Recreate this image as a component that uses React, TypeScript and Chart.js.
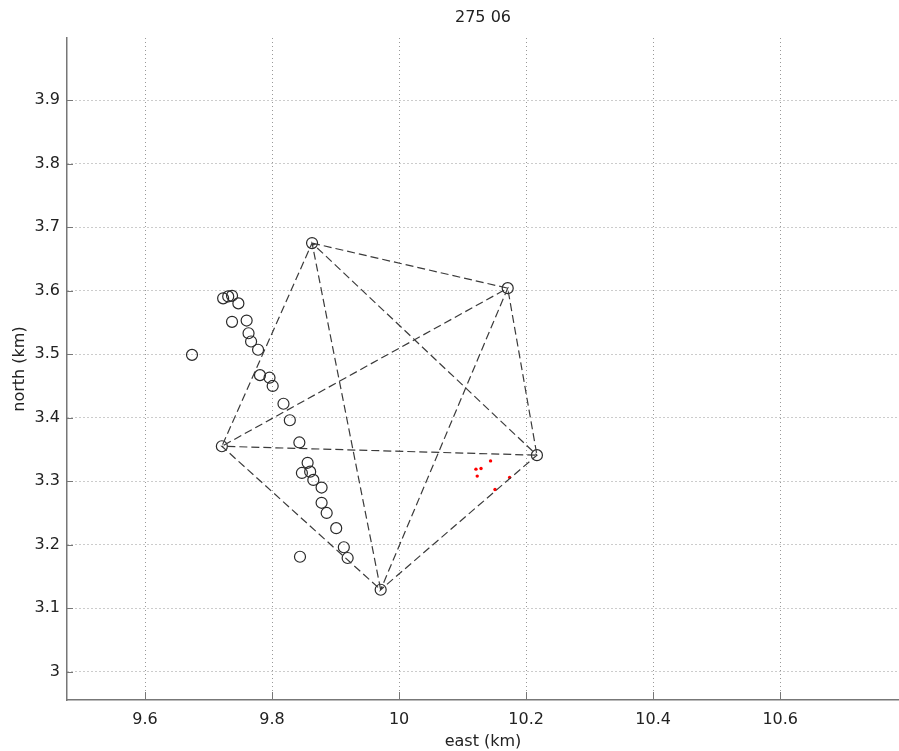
import React, { useEffect, useRef } from "react";
import { Chart, registerables } from "chart.js";

Chart.register(...registerables);

const TITLE = "275 06";
const X_LABEL = "east (km)";
const Y_LABEL = "north (km)";

const X_MIN = 9.4772;
const X_MAX = 10.787;
const Y_MIN = 2.9554;
const Y_MAX = 3.998;
const X_STEP = 0.2;
const Y_STEP = 0.1;

// Station positions (large circles joined by dashed lines)
const stationEast = [9.863, 10.171, 10.217, 9.721, 9.971];
const stationNorth = [3.675, 3.604, 3.341, 3.355, 3.129];
// order in which the stations are linked (every pair is joined)
const linkOrder = [0, 1, 2, 3, 4, 0, 2, 4, 1, 3, 0];

// Located events (open circles)
const eventEast = [
  9.723, 9.731, 9.737, 9.747, 9.737, 9.760, 9.763, 9.767, 9.778, 9.674,
  9.781, 9.796, 9.801, 9.818, 9.828, 9.843, 9.856, 9.847, 9.860, 9.865,
  9.878, 9.878, 9.886, 9.901, 9.913, 9.919, 9.844,
];
const eventNorth = [
  3.588, 3.591, 3.592, 3.580, 3.551, 3.553, 3.533, 3.520, 3.507, 3.499,
  3.467, 3.463, 3.450, 3.422, 3.396, 3.361, 3.329, 3.313, 3.315, 3.302,
  3.290, 3.266, 3.250, 3.226, 3.196, 3.179, 3.181,
];

// Red dots
const redEast = [10.144, 10.121, 10.129, 10.123, 10.174, 10.151];
const redNorth = [3.332, 3.319, 3.320, 3.308, 3.306, 3.287];

const FONT = "'DejaVu Sans', sans-serif";

const fmt = (v: any) => String(Math.round(Number(v) * 10) / 10);

const innerTicks = {
  id: "innerTicks",
  afterDraw(chart: any) {
    const { ctx, chartArea, scales } = chart;
    ctx.save();
    ctx.strokeStyle = "#777";
    ctx.lineWidth = 1;
    ctx.beginPath();
    scales.x.ticks.forEach((_t: any, i: number) => {
      const px = Math.round(scales.x.getPixelForTick(i)) + 0.5;
      ctx.moveTo(px, chartArea.bottom);
      ctx.lineTo(px, chartArea.bottom - 8);
    });
    scales.y.ticks.forEach((_t: any, i: number) => {
      const py = Math.round(scales.y.getPixelForTick(i)) + 0.5;
      ctx.moveTo(chartArea.left, py);
      ctx.lineTo(chartArea.left + 6, py);
    });
    ctx.stroke();
    ctx.restore();
  },
};

export default function App() {
  const ref = useRef<HTMLCanvasElement | null>(null);

  useEffect(() => {
    if (!ref.current) return;
    const linkData = linkOrder.map((i) => ({ x: stationEast[i], y: stationNorth[i] }));
    const stationData = stationEast.map((x, i) => ({ x, y: stationNorth[i] }));
    const eventData = eventEast.map((x, i) => ({ x, y: eventNorth[i] }));
    const redData = redEast.map((x, i) => ({ x, y: redNorth[i] }));

    const chart = new Chart(ref.current, {
      type: "scatter",
      data: {
        datasets: [
          {
            label: "links",
            data: linkData,
            showLine: true,
            borderColor: "#3a3a3a",
            borderWidth: 1.2,
            borderDash: [8, 4],
            pointRadius: 0,
            fill: false,
            tension: 0,
          } as any,
          {
            label: "stations",
            data: stationData,
            pointRadius: 5.5,
            pointBorderWidth: 1.2,
            pointBorderColor: "#2a2a2a",
            pointBackgroundColor: "rgba(0,0,0,0)",
            showLine: false,
          },
          {
            label: "events",
            data: eventData,
            pointRadius: 5.5,
            pointBorderWidth: 1.2,
            pointBorderColor: "#2a2a2a",
            pointBackgroundColor: "rgba(0,0,0,0)",
            showLine: false,
          },
          {
            label: "red",
            data: redData,
            pointRadius: 1.7,
            pointBorderWidth: 0,
            pointBackgroundColor: "#ff0000",
            pointBorderColor: "#ff0000",
            showLine: false,
          },
        ],
      },
      options: {
        animation: false,
        responsive: false,
        devicePixelRatio: 1,
        layout: { padding: 0, autoPadding: false },
        plugins: {
          legend: { display: false },
          tooltip: { enabled: false },
          title: {
            display: true,
            fullSize: false,
            text: TITLE,
            color: "#222",
            font: { family: FONT, size: 16, weight: "normal", lineHeight: 1.2 },
            padding: { top: 8, bottom: 10.8 },
          },
        },
        scales: {
          x: {
            type: "linear",
            min: X_MIN,
            max: X_MAX,
            afterFit: (s: any) => {
              s.height = 51;
            },
            ticks: {
              stepSize: X_STEP,
              includeBounds: false,
              color: "#222",
              padding: 10,
              font: { family: FONT, size: 16 },
              maxRotation: 0,
              callback: fmt,
            },
            grid: {
              color: "#999",
              lineWidth: 1,
              drawTicks: false,
            },
            border: { display: true, color: "#777", width: 1.5, dash: [1, 3] },
            title: {
              display: true,
              text: X_LABEL,
              color: "#222",
              font: { family: FONT, size: 16 },
              padding: { top: 0, bottom: 0 },
            },
          },
          y: {
            type: "linear",
            min: Y_MIN,
            max: Y_MAX,
            afterFit: (s: any) => {
              s.width = 67;
            },
            ticks: {
              stepSize: Y_STEP,
              includeBounds: false,
              color: "#222",
              padding: 7,
              font: { family: FONT, size: 16 },
              callback: fmt,
            },
            grid: {
              color: "#999",
              lineWidth: 1,
              drawTicks: false,
            },
            border: { display: true, color: "#777", width: 1.5, dash: [1, 3] },
            title: {
              display: true,
              text: Y_LABEL,
              color: "#222",
              font: { family: FONT, size: 16 },
              padding: { top: 10, bottom: 0 },
            },
          },
        },
      },
      plugins: [innerTicks],
    } as any);

    return () => chart.destroy();
  }, []);

  return (
    <div style={{ position: "fixed", left: 0, top: 0, width: 899, height: 751, background: "#fff" }}>
      <canvas ref={ref} width={899} height={751} />
    </div>
  );
}
